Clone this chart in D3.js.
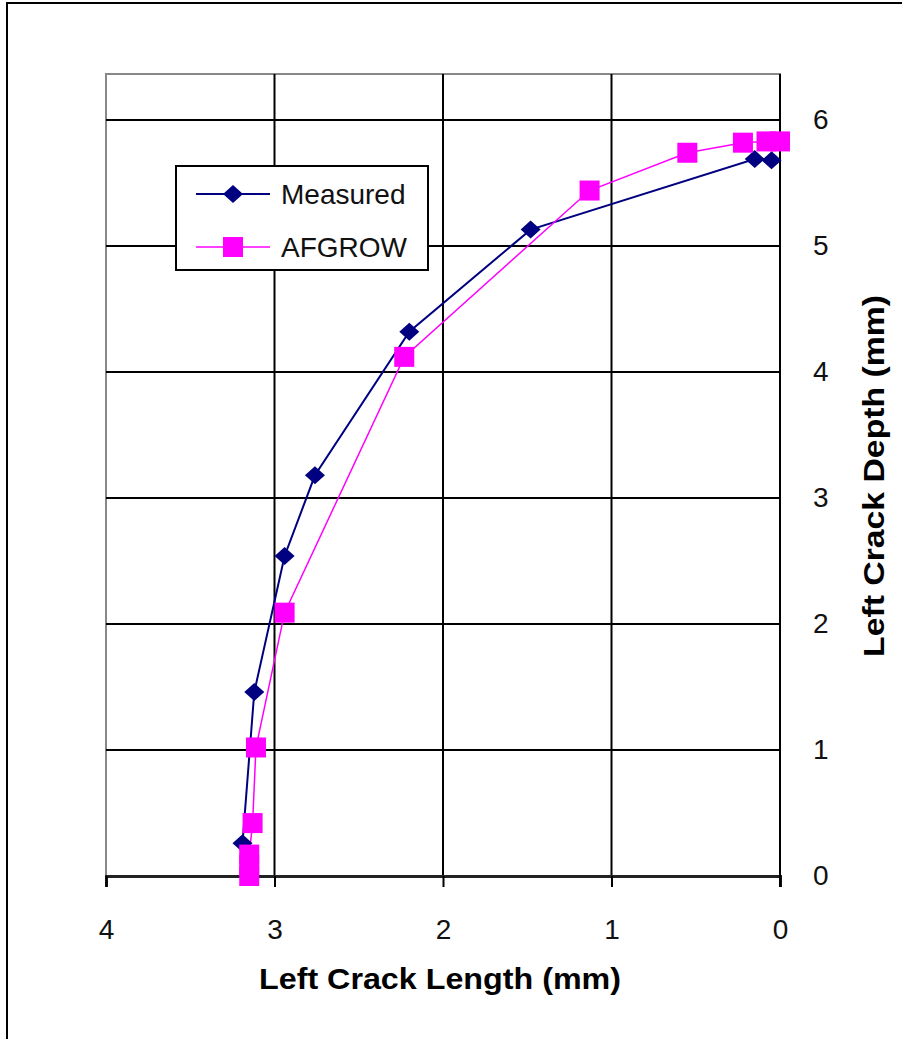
<!DOCTYPE html>
<html><head><meta charset="utf-8">
<script src="https://cdn.jsdelivr.net/npm/d3@7"></script>
<style>body{margin:0;background:#fff}svg{display:block}text{font-family:"Liberation Sans",Arial,sans-serif}</style>
</head><body>
<script>
const measuredLength = [3.19, 3.12, 2.94, 2.76, 2.20, 1.48, 0.15, 0.05];
const measuredDepth  = [0.26, 1.46, 2.54, 3.18, 4.32, 5.13, 5.69, 5.68];
const afgrowLength = [3.15, 3.15, 3.15, 3.13, 3.11, 2.94, 2.23, 1.13, 0.55, 0.22, 0.08, 0.00];
const afgrowDepth  = [0.00, 0.09, 0.17, 0.42, 1.02, 2.09, 4.12, 5.44, 5.74, 5.82, 5.83, 5.83];
const xTicks = [4, 3, 2, 1, 0];
const yTicks = [0, 1, 2, 3, 4, 5, 6];
const seriesNames = ["Measured", "AFGROW"];

const W = 902, H = 1039;
const svg = d3.select("body").append("svg").attr("width", W).attr("height", H);

svg.append("line").attr("x1", 7).attr("x2", 7).attr("y1", 2).attr("y2", H).attr("stroke", "#000").attr("stroke-width", 2);
svg.append("line").attr("x1", 6).attr("x2", W).attr("y1", 3).attr("y2", 3).attr("stroke", "#000").attr("stroke-width", 2);

const x = d3.scaleLinear().domain([4, 0]).range([106, 780]);
const y = d3.scaleLinear().domain([0, 6.365]).range([876, 74]);

svg.append("rect").attr("x", 106).attr("y", 74).attr("width", 674).attr("height", 802)
  .attr("fill", "none").attr("stroke", "#888").attr("stroke-width", 2);

svg.append("g").selectAll("line").data(xTicks.filter(d => d !== 4 && d !== 0)).join("line")
  .attr("x1", d => x(d)).attr("x2", d => x(d)).attr("y1", 74).attr("y2", 876)
  .attr("stroke", "#000").attr("stroke-width", 2);
svg.append("g").selectAll("line").data(yTicks.filter(d => d !== 0)).join("line")
  .attr("x1", 106).attr("x2", 780).attr("y1", d => y(d)).attr("y2", d => y(d))
  .attr("stroke", "#000").attr("stroke-width", 2);

const xAxis = d3.axisBottom(x).tickValues(xTicks).tickSize(11).tickFormat(d3.format("d"));
const gx = svg.append("g").attr("transform", "translate(0,876)").call(xAxis);
gx.select(".domain").attr("stroke", "#222").attr("stroke-width", 3);
gx.selectAll(".tick line").attr("stroke", "#000").attr("stroke-width", 2);
gx.selectAll(".tick text").attr("font-size", 28).attr("fill", "#111").attr("y", 54).attr("dy", "0.32em")
  .attr("font-family", "Liberation Sans, Arial, sans-serif");

const yAxis = d3.axisRight(y).tickValues(yTicks).tickSize(0).tickFormat(d3.format("d"));
const gy = svg.append("g").attr("transform", "translate(780,0)").call(yAxis);
gy.select(".domain").attr("stroke", "#000").attr("stroke-width", 2).attr("d", `M0,${y(0)+11}V74`);
gy.selectAll(".tick text").attr("font-size", 28).attr("fill", "#111").attr("x", 33).attr("text-anchor", "start")
  .attr("font-family", "Liberation Sans, Arial, sans-serif");

svg.append("text").attr("x", 440).attr("y", 989).attr("text-anchor", "middle")
  .attr("font-size", 30).attr("font-weight", "bold").attr("fill", "#000")
  .attr("textLength", 362).attr("lengthAdjust", "spacingAndGlyphs")
  .text("Left Crack Length (mm)");
svg.append("text").attr("transform", "translate(884,476) rotate(-90)").attr("text-anchor", "middle")
  .attr("font-size", 30).attr("font-weight", "bold").attr("fill", "#000")
  .attr("textLength", 362).attr("lengthAdjust", "spacingAndGlyphs")
  .text("Left Crack Depth (mm)");

const measured = measuredLength.map((v, i) => [v, measuredDepth[i]]);
const afgrow = afgrowLength.map((v, i) => [v, afgrowDepth[i]]);
const line = d3.line().x(d => x(d[0])).y(d => y(d[1]));

svg.append("path").datum(measured).attr("d", line).attr("fill", "none").attr("stroke", "#000080").attr("stroke-width", 2);
svg.append("path").datum(afgrow).attr("d", line).attr("fill", "none").attr("stroke", "#ff00ff").attr("stroke-width", 1.5);

const diamond = "M0,-9L10,0L0,9L-10,0Z";
svg.append("g").selectAll("path").data(measured).join("path")
  .attr("transform", d => `translate(${x(d[0])},${y(d[1])})`)
  .attr("d", diamond).attr("fill", "#000080");
svg.append("g").selectAll("rect").data(afgrow).join("rect")
  .attr("x", d => x(d[0]) - 10).attr("y", d => y(d[1]) - 10).attr("width", 20).attr("height", 20)
  .attr("fill", "#ff00ff");

const lg = svg.append("g");
lg.append("rect").attr("x", 176).attr("y", 166).attr("width", 252).attr("height", 104)
  .attr("fill", "#fff").attr("stroke", "#000").attr("stroke-width", 2);
const legendY = [194, 247];
const colors = ["#000080", "#ff00ff"];
seriesNames.forEach((name, i) => {
  lg.append("line").attr("x1", 196).attr("x2", 270).attr("y1", legendY[i]).attr("y2", legendY[i])
    .attr("stroke", colors[i]).attr("stroke-width", i === 0 ? 2 : 1.5);
  if (i === 0) {
    lg.append("path").attr("d", diamond).attr("transform", `translate(233,${legendY[i]})`).attr("fill", colors[i]);
  } else {
    lg.append("rect").attr("x", 223).attr("y", legendY[i] - 10).attr("width", 20).attr("height", 20).attr("fill", colors[i]);
  }
  lg.append("text").attr("x", 281).attr("y", legendY[i]).attr("dy", "0.36em")
    .attr("font-size", 28).attr("fill", "#111").text(name);
});
</script>
</body></html>
